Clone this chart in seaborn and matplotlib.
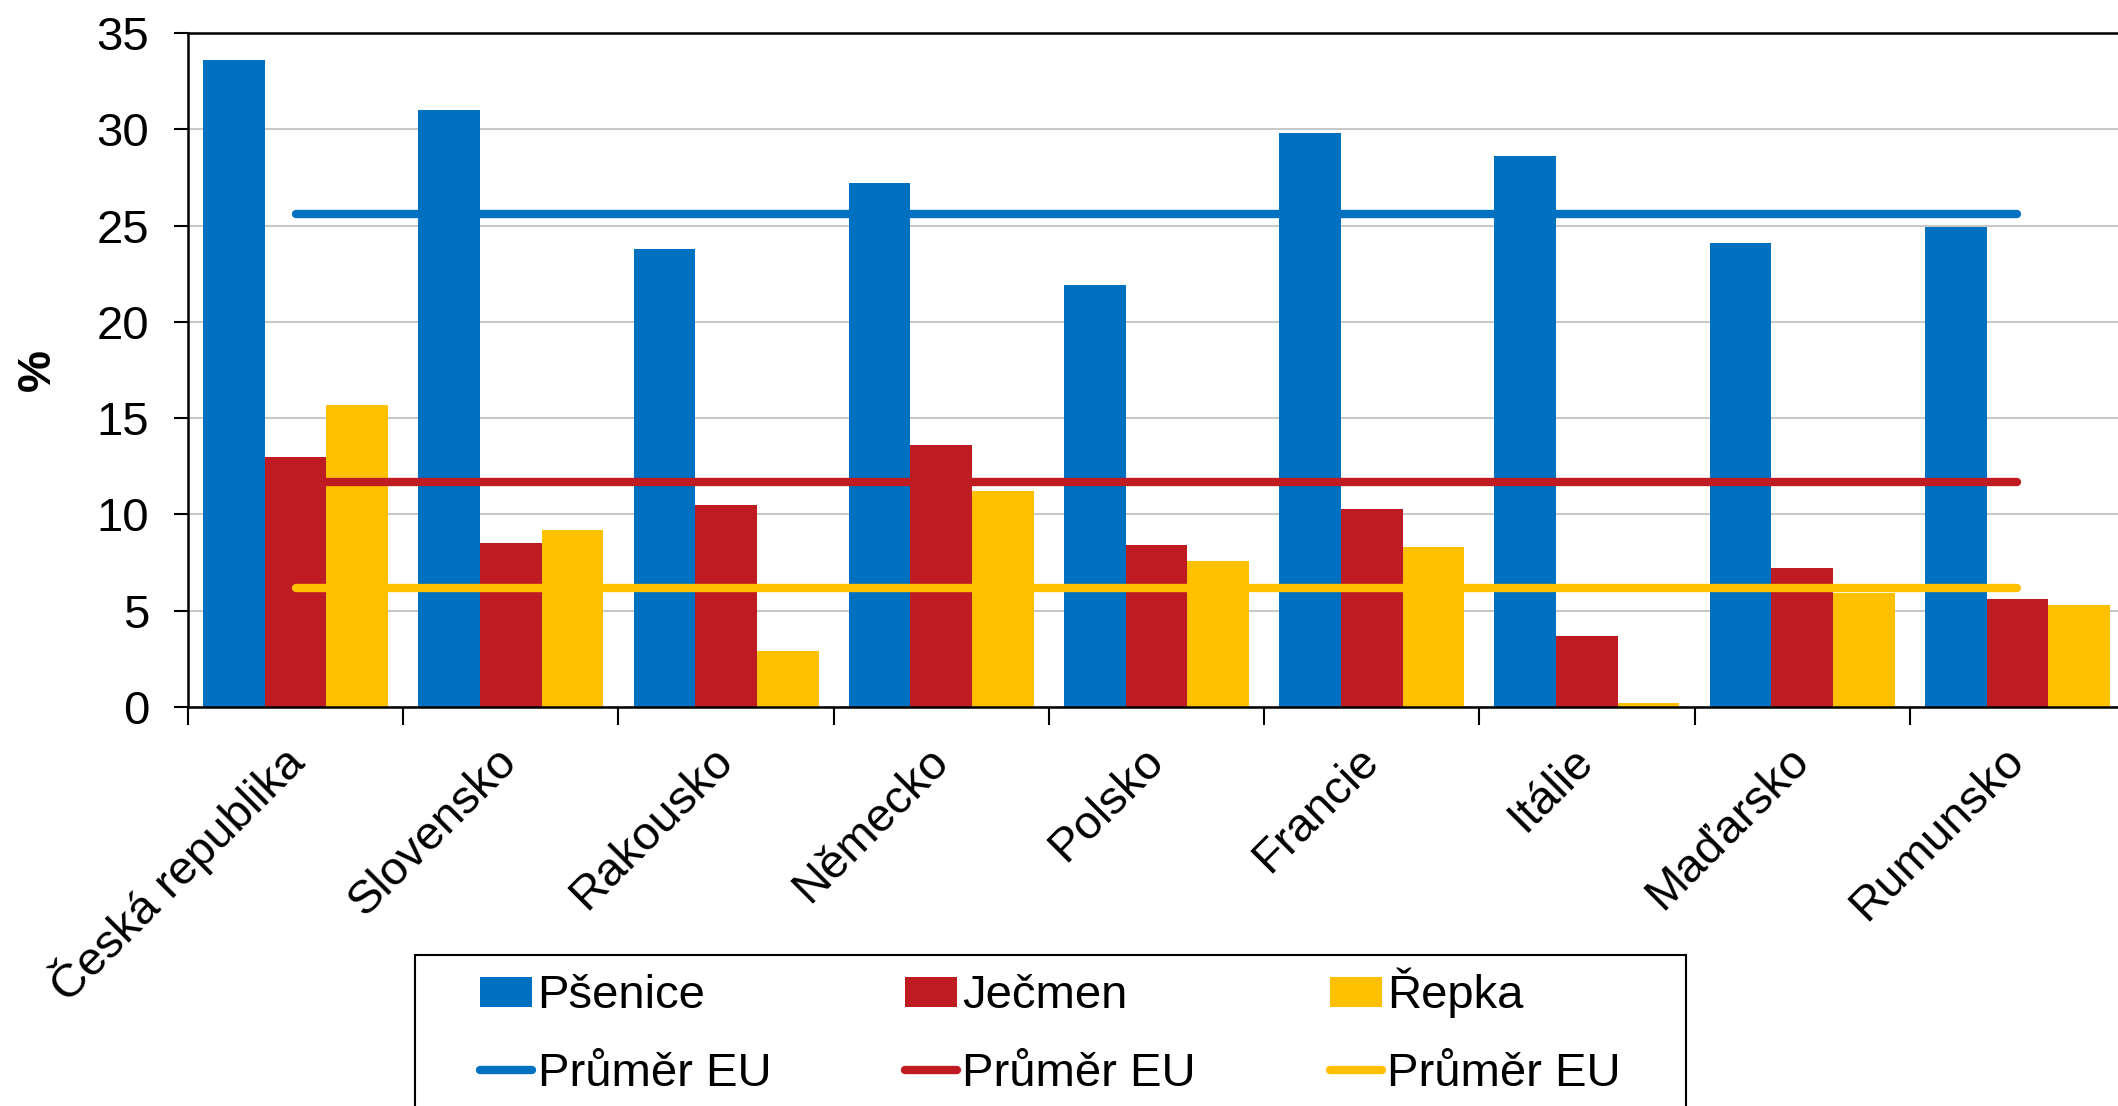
import matplotlib
matplotlib.use("Agg")
import matplotlib.pyplot as plt
import numpy as np
import pandas as pd
import seaborn as sns
from matplotlib.patches import Rectangle
from matplotlib.ticker import FixedLocator

countries = ["Česká republika", "Slovensko", "Rakousko", "Německo", "Polsko",
             "Francie", "Itálie", "Maďarsko", "Rumunsko"]
crops = ["Pšenice", "Ječmen", "Řepka"]
psenice = [33.6, 31.0, 23.8, 27.2, 21.9, 29.8, 28.6, 24.1, 24.9]
jecmen = [13.0, 8.5, 10.5, 13.6, 8.4, 10.3, 3.7, 7.2, 5.6]
repka = [15.7, 9.2, 2.9, 11.2, 7.6, 8.3, 0.2, 5.9, 5.3]
eu_avg = [25.6, 11.7, 6.2]
avg_label = "Průměr EU"
y_ticks = [0, 5, 10, 15, 20, 25, 30, 35]

colors = ["#0070C0", "#BE1B23", "#FFC000"]

sns.set_theme(style="white")
plt.rcParams["font.family"] = ["Liberation Sans", "DejaVu Sans"]
plt.rcParams["text.color"] = "black"
plt.rcParams["xtick.color"] = "black"
plt.rcParams["ytick.color"] = "black"
plt.rcParams["axes.labelcolor"] = "black"
FS = 34

df = pd.DataFrame({
    "country": countries * 3,
    "crop": np.repeat(crops, len(countries)),
    "value": psenice + jecmen + repka,
})

fig = plt.figure(figsize=(21.18, 11.06), dpi=100)
W, H = 2118, 1106
left, right, top, bottom = 188, 2125, 33, 707
ax = fig.add_axes([left / W, 1 - bottom / H, (right - left) / W, (bottom - top) / H])

sns.barplot(data=df, x="country", y="value", hue="crop", palette=colors,
            saturation=1, width=0.86, linewidth=0, ax=ax, legend=True)

n = len(countries)
for avg, c in zip(eu_avg, colors):
    ax.plot(np.arange(n), np.full(n, avg), color=c, lw=6,
            solid_capstyle="round", label=avg_label, zorder=3)

ax.set_xlim(-0.5, n - 0.5)
ax.set_ylim(0, 35)
ax.set_yticks(y_ticks)
ax.yaxis.grid(True, color="#C8C8C8", lw=1.5)
ax.set_axisbelow(True)

for s in ["left", "bottom", "top"]:
    ax.spines[s].set_visible(True)
    ax.spines[s].set_color("black")
    ax.spines[s].set_linewidth(1.8)
ax.spines["right"].set_visible(False)

ax.tick_params(axis="y", which="major", direction="out", length=10, width=1.5,
               color="black", labelsize=FS, pad=18, left=True)
ax.xaxis.set_minor_locator(FixedLocator(np.arange(0, n) - 0.5))
ax.tick_params(axis="x", which="minor", direction="out", length=13, width=1.5,
               color="black", bottom=True)
ax.tick_params(axis="x", which="major", length=0, pad=34, labelsize=FS)
ax.set_xticks(np.arange(n))
ax.set_xticklabels(countries, rotation=45, ha="right", va="center",
                   rotation_mode="anchor")
ax.set_xlabel("")
ax.set_ylabel("%", fontsize=FS, fontweight="bold")
ax.yaxis.set_label_coords((60 - left) / (right - left), 0.5)

# legend: bars on the first row, average lines on the second
handles, labels = ax.get_legend_handles_labels()
bars_h = handles[:3]
lines_h = handles[3:6]
order_h = []
order_l = []
for i in range(3):
    order_h += [bars_h[i], lines_h[i]]
    order_l += [crops[i], avg_label]
if ax.legend_:
    ax.legend_.remove()
leg = fig.legend(order_h, order_l, ncol=3, loc="upper left",
                 bbox_to_anchor=(480 / W, 1 - 968 / H), frameon=False,
                 fontsize=FS, handlelength=1.1, handleheight=0.6,
                 handletextpad=0.12, columnspacing=2.83, labelspacing=0.7,
                 borderpad=0, borderaxespad=0)
fig.add_artist(Rectangle((415 / W, 1 - 1120 / H), (1686 - 415) / W, (1120 - 955) / H,
                         transform=fig.transFigure, fill=False, edgecolor="black",
                         lw=1.5))

fig.savefig("out.png", dpi=100)
